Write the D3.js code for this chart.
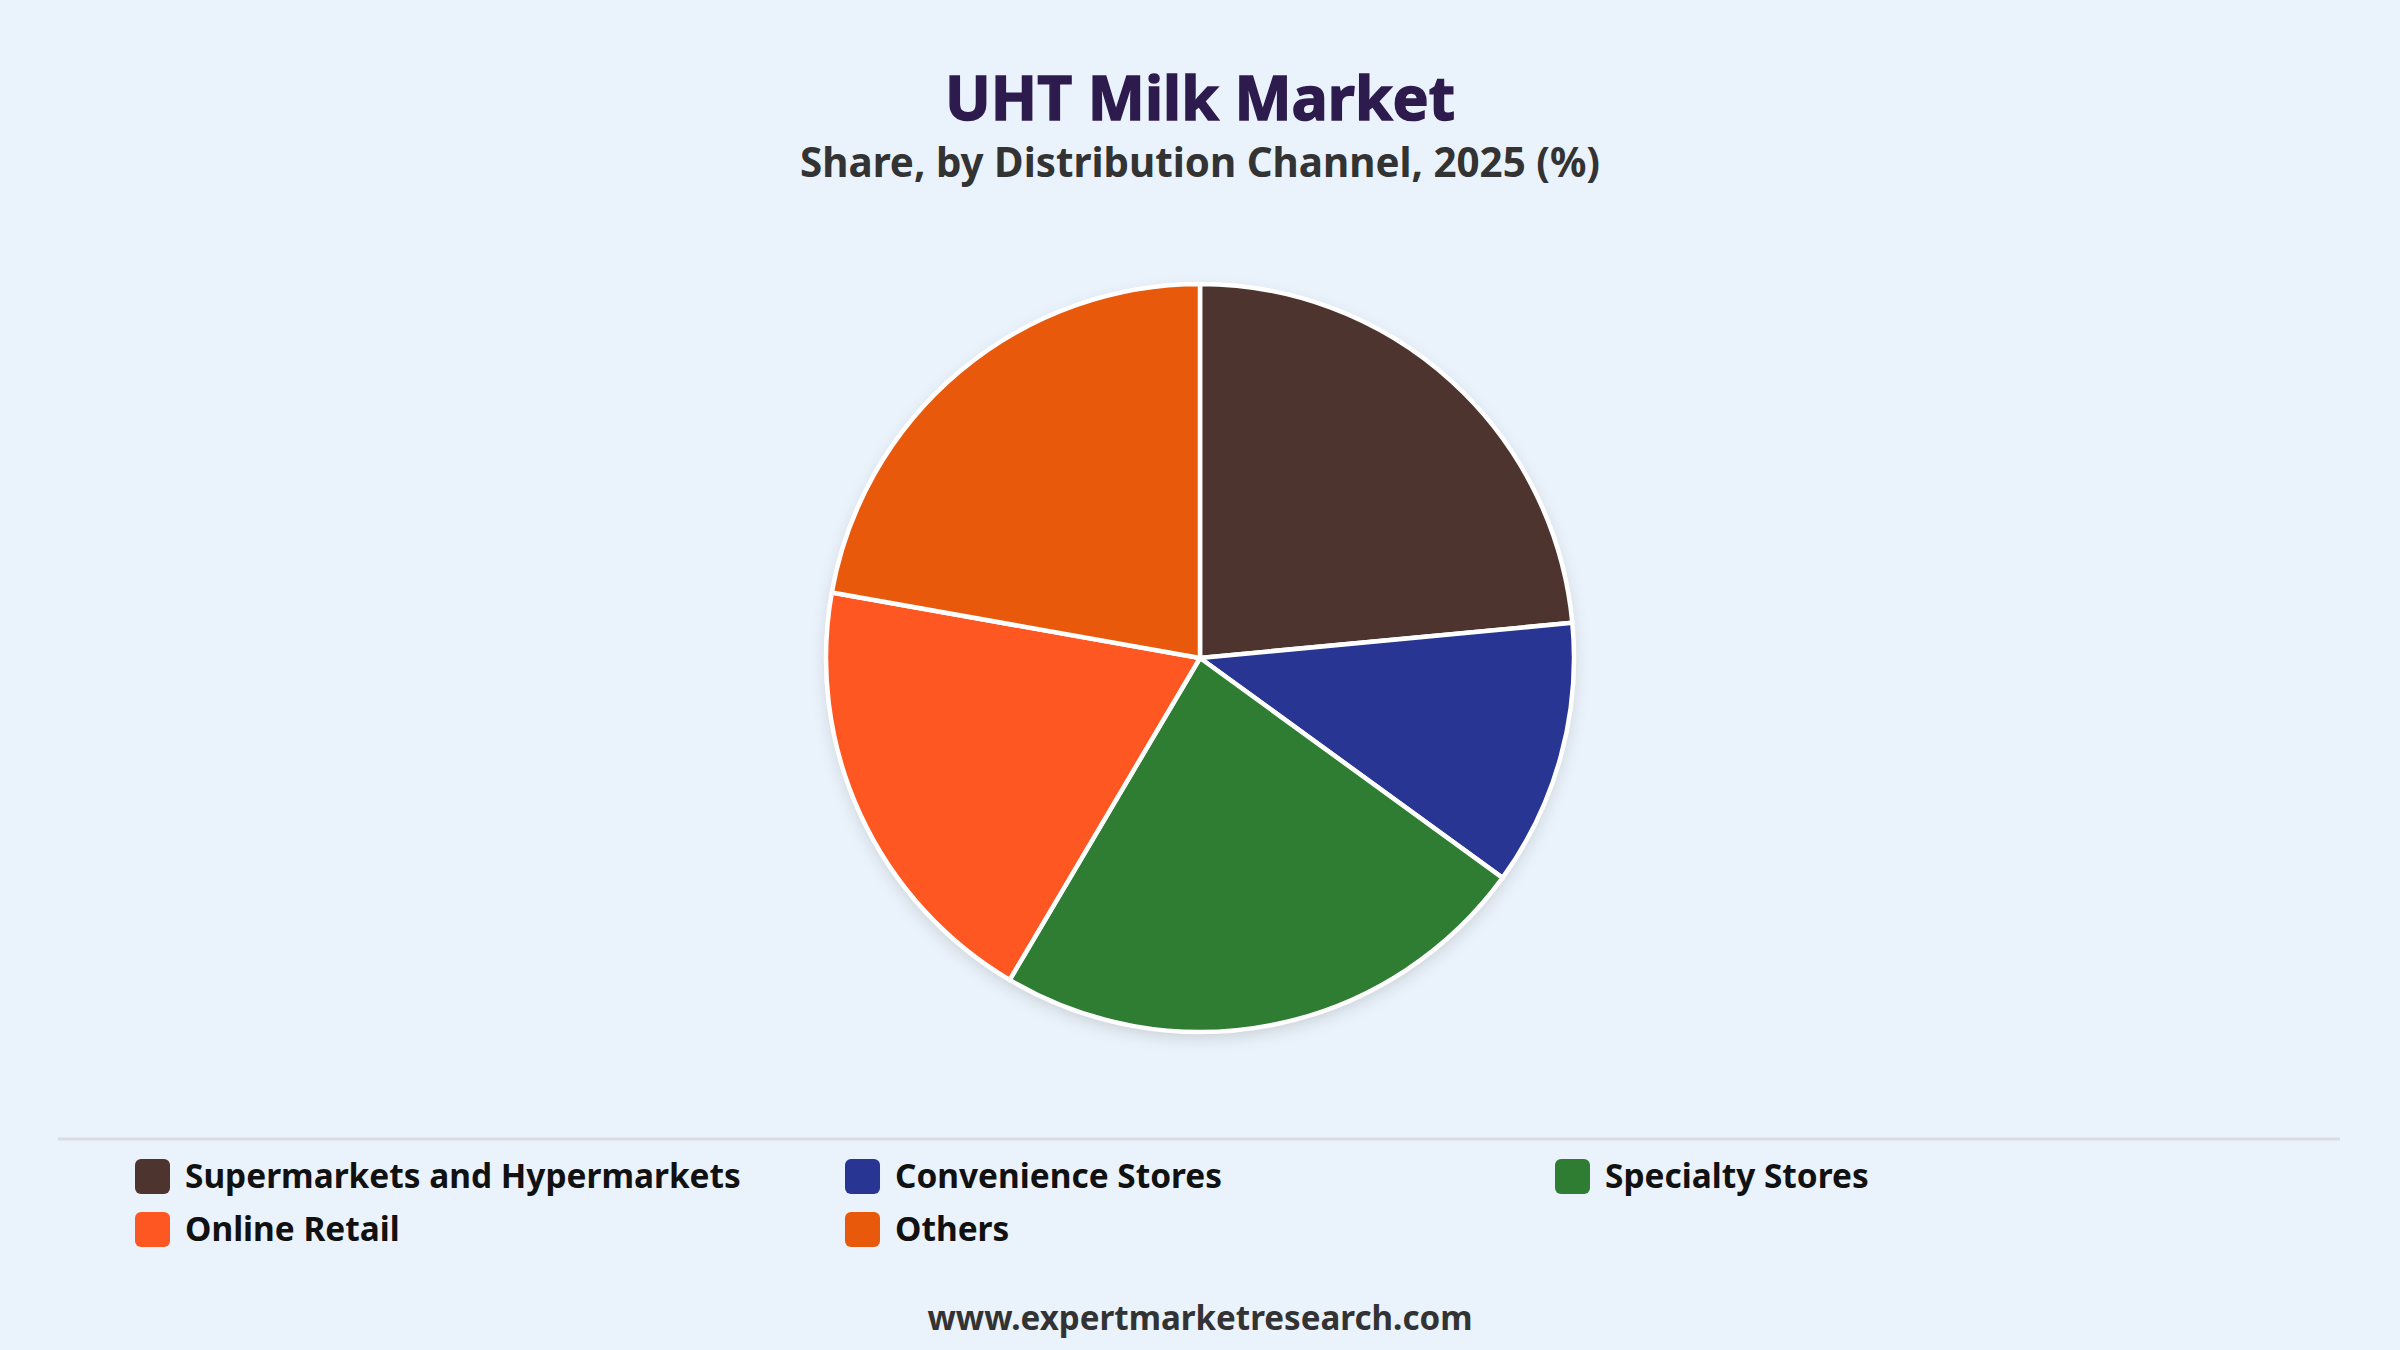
<!DOCTYPE html>
<html>
<head>
<meta charset="utf-8">
<script src="https://cdn.jsdelivr.net/npm/d3@7"></script>
<style>
  html, body { margin: 0; padding: 0; background: #eaf2fb; }
  svg { display: block; }
  text { font-family: "Noto Sans", "Open Sans", sans-serif; font-weight: 700; }
</style>
</head>
<body>
<script>
const W = 2400, H = 1350;

// data
const categories = ["Supermarkets and Hypermarkets", "Convenience Stores", "Specialty Stores", "Online Retail", "Others"];
const shares = [23.5, 11.5, 23.5, 19.3, 22.2];
const colors = ["#4e342e", "#283593", "#2e7d32", "#ff5722", "#e8590c"];

const title = "UHT Milk Market";
const subtitle = "Share, by Distribution Channel, 2025 (%)";
const source = "www.expertmarketresearch.com";

const svg = d3.select("body").append("svg")
    .attr("width", W)
    .attr("height", H);

svg.append("rect").attr("width", W).attr("height", H).attr("fill", "#eaf2fb");

// shrink/grow font so the text spans the same width as in the picture
function fit(sel, target) {
    let fs = parseFloat(sel.style("font-size"));
    let len = sel.node().getComputedTextLength();
    sel.style("font-size", (fs * target / len) + "px");
}

// titles
let t1 = svg.append("text")
    .attr("x", W / 2).attr("y", 120)
    .attr("text-anchor", "middle")
    .attr("fill", "#2d1b4e")
    .attr("stroke", "#2d1b4e")
    .attr("stroke-width", 1.5)
    .style("font-size", "56px")
    .text(title);
fit(t1, 510);

let t2 = svg.append("text")
    .attr("x", W / 2).attr("y", 177)
    .attr("text-anchor", "middle")
    .attr("fill", "#333333")
    .style("font-size", "36px")
    .text(subtitle);
fit(t2, 800);

// pie
const cx = 1200, cy = 658, r = 374;

let defs = svg.append("defs");
let f = defs.append("filter").attr("id", "shadow")
    .attr("x", "-20%").attr("y", "-20%").attr("width", "140%").attr("height", "140%");
f.append("feDropShadow")
    .attr("dx", 0).attr("dy", 6).attr("stdDeviation", 8)
    .attr("flood-color", "#000").attr("flood-opacity", 0.14);

let pie = d3.pie().sort(null).value(d => d)(shares);
let arc = d3.arc().innerRadius(0).outerRadius(r);

let g = svg.append("g")
    .attr("transform", `translate(${cx},${cy})`);

g.append("circle").attr("r", r).attr("fill", "#fff").attr("filter", "url(#shadow)");

g.selectAll("path")
    .data(pie)
    .enter()
    .append("path")
    .attr("d", arc)
    .attr("fill", (d, i) => colors[i])
    .attr("stroke", "#fff")
    .attr("stroke-width", 4.5)
    .attr("stroke-linejoin", "round");

// legend
svg.append("line")
    .attr("x1", 58).attr("x2", 2340)
    .attr("y1", 1139).attr("y2", 1139)
    .attr("stroke", "#d9dde3").attr("stroke-width", 3);

const colX = [135, 845, 1555], rowY = [1176, 1229];

let items = svg.selectAll("g.leg")
    .data(categories)
    .enter()
    .append("g")
    .attr("class", "leg")
    .attr("transform", (d, i) => `translate(${colX[i % 3]},${rowY[Math.floor(i / 3)]})`);

items.append("rect")
    .attr("x", 0).attr("y", -17)
    .attr("width", 35).attr("height", 35)
    .attr("rx", 6)
    .attr("fill", (d, i) => colors[i]);

items.append("text")
    .attr("x", 50).attr("y", 0)
    .attr("dy", "0.36em")
    .attr("fill", "#111")
    .style("font-size", "33px")
    .text(d => d);

fit(items.filter((d, i) => i === 0).select("text"), 556);
let legSize = items.filter((d, i) => i === 0).select("text").style("font-size");
items.selectAll("text").style("font-size", legSize);

let t3 = svg.append("text")
    .attr("x", W / 2).attr("y", 1318)
    .attr("dy", "0.36em")
    .attr("text-anchor", "middle")
    .attr("fill", "#333333")
    .style("font-size", "32px")
    .text(source);
fit(t3, 545);
</script>
</body>
</html>
